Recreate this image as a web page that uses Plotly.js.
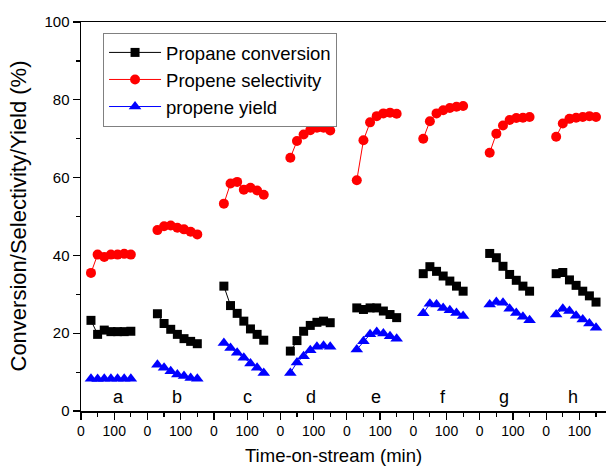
<!DOCTYPE html>
<html>
<head>
<meta charset="utf-8">
<script src="https://cdn.plot.ly/plotly-3.0.1.min.js"></script>
<style>html,body{margin:0;padding:0;background:#fff;}#chart{width:606px;height:466px;}</style>
</head>
<body>
<div id="chart"></div>
<script>
// Sample labels and sampling times (min) within each run
var groupLabels = ["a", "b", "c", "d", "e", "f", "g", "h"];
var times = [30, 50, 70, 90, 110, 130, 150];
var groupSpan = 200; // axis minutes reserved for each run

// Propane conversion (%)
var conversion = [
  [23.3, 19.7, 20.8, 20.4, 20.4, 20.4, 20.5],
  [25.0, 22.5, 21.0, 19.7, 18.6, 17.9, 17.3],
  [32.1, 27.1, 25.1, 23.1, 21.1, 19.7, 18.2],
  [15.4, 18.1, 20.5, 22.0, 22.8, 23.1, 22.7],
  [26.5, 26.1, 26.5, 26.5, 25.7, 24.8, 24.0],
  [35.3, 37.1, 35.9, 34.7, 33.4, 32.1, 30.8],
  [40.5, 39.4, 37.2, 35.1, 33.6, 32.1, 30.8],
  [35.3, 35.6, 33.7, 32.3, 30.8, 29.6, 28.0]
];
// Propene selectivity (%)
var selectivity = [
  [35.5, 40.2, 39.6, 40.2, 40.2, 40.4, 40.2],
  [46.5, 47.5, 47.7, 47.1, 46.7, 46.1, 45.4],
  [53.3, 58.5, 58.9, 56.9, 57.4, 56.7, 55.6],
  [65.1, 69.4, 71.1, 72.2, 72.8, 72.8, 72.1],
  [59.3, 69.6, 74.2, 75.8, 76.5, 76.7, 76.4],
  [70.0, 74.5, 76.5, 77.3, 77.9, 78.2, 78.4],
  [66.4, 71.3, 73.4, 74.8, 75.3, 75.4, 75.6],
  [70.5, 73.9, 75.1, 75.4, 75.6, 75.8, 75.6]
];
// Propene yield (%)
var yieldVals = [
  [8.3, 8.2, 8.3, 8.3, 8.3, 8.3, 8.3],
  [11.9, 11.1, 10.2, 9.4, 9.0, 8.5, 8.3],
  [17.5, 16.2, 15.0, 13.7, 12.2, 11.1, 9.8],
  [9.8, 12.5, 14.1, 15.6, 16.5, 16.8, 16.5],
  [15.8, 17.9, 19.7, 20.3, 19.9, 19.2, 18.6],
  [25.1, 27.6, 27.4, 26.5, 25.9, 25.2, 24.4],
  [27.4, 28.0, 27.8, 26.3, 25.2, 24.2, 23.3],
  [24.8, 26.3, 25.7, 24.5, 23.5, 22.5, 21.4]
];
// x tick labels repeating for every run
var tickLabels = ["0", "100"];

function flatten(series) {
  var xs = [], ys = [];
  series.forEach(function (grp, g) {
    grp.forEach(function (v, i) {
      xs.push(g * groupSpan + times[i]);
      ys.push(v);
    });
    xs.push(null); ys.push(null);
  });
  return {x: xs, y: ys};
}

var c = flatten(conversion), s = flatten(selectivity), yv = flatten(yieldVals);

var traces = [
  {x: c.x, y: c.y, name: "Propane conversion", mode: "lines+markers",
   line: {color: "#000000", width: 1}, marker: {symbol: "square", size: 9, color: "#000000"}},
  {x: s.x, y: s.y, name: "Propene selectivity", mode: "lines+markers",
   line: {color: "#ff0000", width: 1}, marker: {symbol: "circle", size: 10, color: "#ff0000"}},
  {x: yv.x, y: yv.y, name: "propene yield", mode: "lines+markers",
   line: {color: "#0000ff", width: 1}, marker: {symbol: "triangle-up", size: 11, color: "#0000ff"}}
];

var tickvals = [], ticktext = [];
for (var g = 0; g < groupLabels.length; g++) {
  tickvals.push(g * groupSpan, g * groupSpan + 100);
  ticktext.push(tickLabels[0], tickLabels[1]);
}

var labelOffsets = [112, 88, 100, 92, 87, 89, 74, 82];
var annotations = groupLabels.map(function (lab, g) {
  return {x: g * groupSpan + labelOffsets[g], y: 3.6, xref: "x", yref: "y", text: lab,
          showarrow: false, font: {size: 18, color: "#000"}};
});
annotations.push({x: (333 - 81) / 525, y: -(455 - 411) / 389, xref: "paper", yref: "paper",
  xanchor: "center", yanchor: "middle", text: "Time-on-stream (min)",
  showarrow: false, font: {size: 18.5, color: "#000"}});
annotations.push({x: -(81 - 18) / 525, y: 0.5, xref: "paper", yref: "paper",
  xanchor: "center", yanchor: "middle", textangle: -90, text: "Conversion/Selectivity/Yield (%)",
  showarrow: false, font: {size: 22, color: "#000"}});

var font = "Arial, 'Liberation Sans', sans-serif";
var layout = {
  width: 606, height: 466,
  margin: {l: 81, r: 0, t: 22, b: 55},
  paper_bgcolor: "#fff", plot_bgcolor: "#fff",
  font: {family: font, size: 14, color: "#000"},
  showlegend: true,
  legend: {x: 0.042, y: 0.972, xanchor: "left", yanchor: "top",
    bordercolor: "#808080", borderwidth: 1, bgcolor: "#fff", itemwidth: 52,
    font: {size: 18.5, color: "#000"}, tracegroupgap: 0},
  xaxis: {
    range: [0, 1580], showgrid: false, zeroline: false,
    showline: true, linecolor: "#000", linewidth: 1.5, mirror: true,
    tickmode: "array", tickvals: tickvals, ticktext: ticktext,
    ticks: "outside", ticklen: 7, tickwidth: 1.2, tickcolor: "#000",
    tickfont: {size: 14, color: "#000"},
    minor: {tickmode: "linear", tick0: 50, dtick: 100, ticks: "outside", ticklen: 4, tickwidth: 1.2, tickcolor: "#000"}
  },
  yaxis: {
    range: [0, 100], showgrid: false, zeroline: false,
    showline: true, linecolor: "#000", linewidth: 1.5,
    dtick: 20, tick0: 0,
    ticks: "outside", ticklen: 7, tickwidth: 1.2, tickcolor: "#000",
    tickfont: {size: 15, color: "#000"},
    minor: {dtick: 10, ticks: "outside", ticklen: 4, tickwidth: 1.2, tickcolor: "#000"}
  },
  annotations: annotations
};

Plotly.newPlot("chart", traces, layout, {displayModeBar: false, staticPlot: true});
</script>
</body>
</html>
